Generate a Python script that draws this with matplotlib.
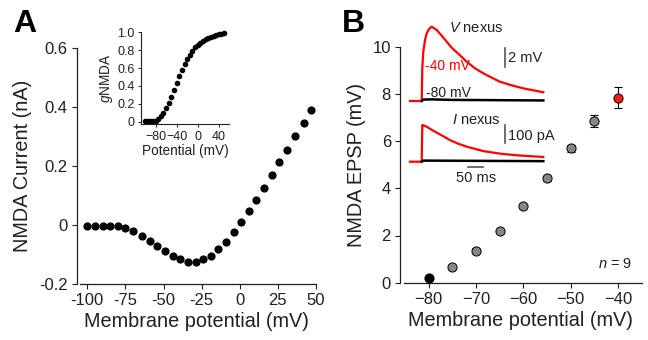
import matplotlib
matplotlib.use("Agg")
import matplotlib.pyplot as plt

plt.rcParams['font.family'] = ['Liberation Sans', 'DejaVu Sans']
plt.rcParams['mathtext.fontset'] = 'custom'
plt.rcParams['mathtext.rm'] = 'Liberation Sans'
plt.rcParams['mathtext.it'] = 'Liberation Sans:italic'
TXT = '#231f20'
plt.rcParams['text.color'] = TXT
plt.rcParams['axes.labelcolor'] = TXT
plt.rcParams['xtick.color'] = TXT
plt.rcParams['ytick.color'] = TXT
plt.rcParams['axes.edgecolor'] = TXT

# ---------------- data ----------------
# Panel A: NMDA I-V relation
iv_potential = [-100, -95, -90, -85, -80, -75, -70, -64, -59, -54, -49, -44, -39, -34, -29,
                -24, -19, -14, -9, -4, 1, 6, 11, 16, 21, 26, 31, 36, 42, 47]
iv_current = [-0.002, -0.002, -0.002, -0.002, -0.002, -0.011, -0.021, -0.037, -0.053, -0.071,
              -0.088, -0.105, -0.117, -0.124, -0.126, -0.117, -0.104, -0.082, -0.059, -0.025,
              0.010, 0.046, 0.085, 0.124, 0.169, 0.214, 0.255, 0.300, 0.344, 0.388]

# Panel A inset: normalized NMDA conductance
g_potential = [-100, -95, -90, -85, -80, -75, -70, -65, -60, -55, -50, -45, -40, -35, -30,
               -25, -20, -15, -10, -5, 0, 5, 10, 15, 20, 25, 30, 35, 40, 45, 50]
g_nmda = [0.007, 0.007, 0.007, 0.008, 0.012, 0.03, 0.06, 0.10, 0.15, 0.21, 0.28, 0.35, 0.43,
          0.51, 0.58, 0.645, 0.70, 0.75, 0.79, 0.83, 0.86, 0.885, 0.905, 0.92, 0.935, 0.95,
          0.96, 0.97, 0.98, 0.985, 0.99]

# Panel B: NMDA EPSP vs membrane potential
epsp_potential = [-80, -75, -70, -65, -60, -55, -50, -45, -40]
epsp_amp = [0.21, 0.68, 1.36, 2.19, 3.25, 4.42, 5.69, 6.86, 7.84]
epsp_err = [0.05, 0.08, 0.1, 0.1, 0.1, 0.12, 0.16, 0.25, 0.44]

# Panel B traces (time in ms relative to stimulus)
v40_t = [-39, 0, 2.0, 5.3, 11.0, 16.7, 24.3, 33.3, 50, 66.6, 83.3, 99.9, 116.6, 133.2, 149.9,
         177.5, 205.1, 233.1, 260.7, 288.4, 316.4, 344.0, 371.6, 404.9]
v40_mv = [0, 0, 3.56, 5.37, 6.65, 7.38, 7.85, 8.10, 7.74, 7.12, 6.46, 5.81, 5.31, 4.80, 4.28,
          3.56, 3.02, 2.54, 2.10, 1.82, 1.56, 1.34, 1.17, 0.95]
v80_t = [0, 5, 30, 100, 405]
v80_mv = [0.0, 0.15, 0.18, 0.12, 0.06]
i40_t = [-39, 0, 2.0, 3.3, 16.7, 38.6, 66.6, 94.2, 121.9, 149.9, 205.1, 260.7, 316.4, 371.6, 404.9]
i40_pa = [0, 0, 200, 200, 191, 169, 144, 118, 98, 82, 58, 44, 35, 29, 26]
i80_t = [0, 5, 405]
i80_pa = [0, 6, 3]

# ---------------- layout helpers (pixel geometry) ----------------
W, H = 648, 340
fig = plt.figure(figsize=(W / 100, H / 100), dpi=100)


def ax_px(left, top, right, bottom):
    return fig.add_axes([left / W, 1 - bottom / H, (right - left) / W, (bottom - top) / H])


def ftext(x, y, s, **kw):
    fig.text(x / W, 1 - y / H, s, **kw)


# ---------------- Panel A ----------------
axA = ax_px(76.7, 47.7, 316, 284)
axA.plot(iv_potential, iv_current, 'o', color='black', ms=4.9, mec='black', clip_on=False)
axA.set_xlim(-106.96, 50.07)
axA.set_ylim(-0.2, 0.6)
axA.set_xticks([-100, -75, -50, -25, 0, 25, 50])
axA.set_yticks([-0.2, 0, 0.2, 0.4, 0.6])
axA.set_yticklabels(['-0.2', '0', '0.2', '0.4', '0.6'])
axA.set_xticklabels(['-100', '-75', '-50', '-25', '0', '25', '50'])
for s in ['top', 'right']:
    axA.spines[s].set_visible(False)
axA.spines['bottom'].set_bounds(-104.8, 50)
axA.spines['left'].set_bounds(-0.2, 0.6)
axA.tick_params(direction='out', length=3.5, width=0.8, labelsize=12, pad=3)
axA.set_xlabel('Membrane potential (mV)', fontsize=14.3, labelpad=3)
axA.set_ylabel('NMDA Current (nA)', fontsize=14.3, labelpad=5)
for s in axA.spines.values():
    s.set_linewidth(0.9)

# inset
axI = ax_px(141, 32.3, 229.5, 124.3)
axI.plot(g_potential, g_nmda, 'o', color='black', ms=3.0, clip_on=False)
axI.set_xlim(-107.5, 60.3)
axI.set_ylim(-0.029, 1.0)
axI.set_xticks([-80, -40, 0, 40])
axI.set_yticks([0, 0.2, 0.4, 0.6, 0.8, 1.0])
axI.set_yticklabels(['0', '0.2', '0.4', '0.6', '0.8', '1.0'])
for s in ['top', 'right']:
    axI.spines[s].set_visible(False)
axI.tick_params(direction='out', length=2.5, width=0.7, labelsize=9, pad=2)
axI.set_xlabel('Potential (mV)', fontsize=9.8, labelpad=1)
axI.set_ylabel(r'$\mathit{g}$NMDA', fontsize=9.8, labelpad=2)
for s in axI.spines.values():
    s.set_linewidth(0.8)

# ---------------- Panel B ----------------
axB = ax_px(400, 46.7, 641.7, 282.7)
gray = '#8a8482'
colors = ['black'] + [gray] * 7 + ['#ff1a1a']
axB.errorbar(epsp_potential, epsp_amp, yerr=epsp_err, fmt='none', ecolor='black',
             elinewidth=0.8, capsize=3, capthick=0.8, zorder=2, clip_on=False)
for x, y, c in zip(epsp_potential, epsp_amp, colors):
    axB.plot(x, y, 'o', ms=6.6, mfc=c, mec='black', mew=0.7, zorder=3, clip_on=False)
axB.set_xlim(-86.06, -35)
axB.set_ylim(0, 10)
axB.set_xticks([-80, -70, -60, -50, -40])
axB.set_yticks([0, 2, 4, 6, 8, 10])
for s in ['top', 'right']:
    axB.spines[s].set_visible(False)
axB.spines['bottom'].set_bounds(-85.2, -35)
axB.tick_params(direction='out', length=3.5, width=0.8, labelsize=12, pad=3)
axB.set_xlabel('Membrane potential (mV)', fontsize=14.3, labelpad=3)
axB.set_ylabel('NMDA EPSP (mV)', fontsize=14.3, labelpad=5)
for s in axB.spines.values():
    s.set_linewidth(0.9)

# traces: V nexus
t0px, ms_px, mv_px, pa_px = 421.7, 3.33, 0.109, 5.46
axV = ax_px(405, 20, 548, 105)
axV.set_xlim((405 - t0px) * ms_px, (548 - t0px) * ms_px)
axV.set_ylim(-(105 - 101) * mv_px, (101 - 20) * mv_px)
axV.plot(v40_t, v40_mv, color='#ff0000', lw=1.6, clip_on=False)
axV.plot(v80_t, v80_mv, color='black', lw=1.8, clip_on=False)
axV.plot([278, 278], [3.74, 5.74], color='#555555', lw=1.2)
axV.axis('off')

axC = ax_px(405, 113, 548, 185)
axC.set_xlim((405 - t0px) * ms_px, (548 - t0px) * ms_px)
axC.set_ylim(-(185 - 161.7) * pa_px, (161.7 - 113) * pa_px)
axC.plot(i40_t, i40_pa, color='#ff0000', lw=1.6, clip_on=False)
axC.plot(i80_t, i80_pa, color='black', lw=1.8, clip_on=False)
axC.plot([278, 278], [100, 200], color='#555555', lw=1.2)
axC.plot([155, 205], [-30.6, -30.6], color='#555555', lw=1.2)
axC.axis('off')

ftext(476, 28.5, r'$\mathit{V}$ nexus', fontsize=10.5, ha='center', va='center')
ftext(476.5, 119.5, r'$\mathit{I}$ nexus', fontsize=10.5, ha='center', va='center')
ftext(425, 66, '-40 mV', fontsize=10, color='#ff0000', ha='left', va='center')
ftext(426, 93, '-80 mV', fontsize=10, color=TXT, ha='left', va='center')
ftext(508.5, 58.5, '2 mV', fontsize=10.5, ha='left', va='center')
ftext(508.5, 136, '100 pA', fontsize=10.5, ha='left', va='center')
ftext(476, 178.5, '50 ms', fontsize=10.5, ha='center', va='center')
ftext(632, 263.5, r'$\mathit{n}$ = 9', fontsize=10.5, ha='right', va='center')

# panel letters
ftext(13, 9, 'A', fontsize=23, fontweight='bold', ha='left', va='top', color='black')
ftext(342, 9, 'B', fontsize=23, fontweight='bold', ha='left', va='top', color='black')

fig.savefig('out.png', dpi=100)
